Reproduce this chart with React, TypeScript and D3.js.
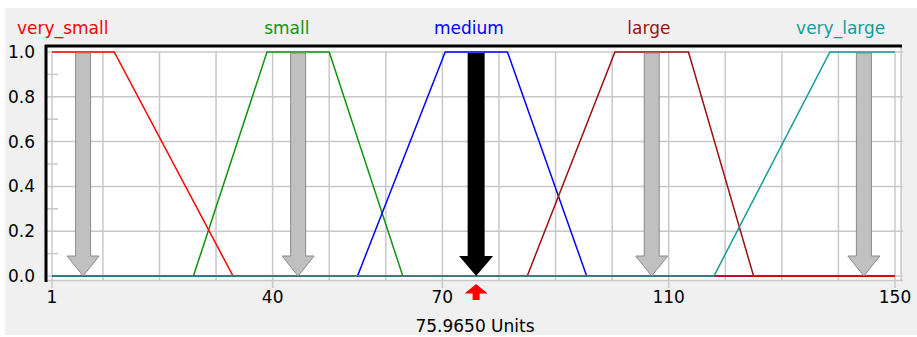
import React from 'react'
import * as d3 from 'd3'

const setNames = ['very_small', 'small', 'medium', 'large', 'very_large']
const setColors = ['#ff0000', '#119311', '#0000ff', '#9b1010', '#129c9c']
// trapezoid corners a, b, c, d for each set
const setPoints: number[][] = [
  [1, 1, 12, 33],
  [26, 39, 50, 63],
  [55, 70.5, 81.5, 95.5],
  [85, 100.5, 113.5, 125],
  [118, 138.5, 150, 150],
]
const drawOrder = [1, 2, 3, 0, 4]
const centroids = [6.5, 44.5, 76, 107, 144.5]
const labelAt = [2.9, 42.5, 74.7, 106.5, 140.4]
const crispValue = 75.965
const activeSet = 2

const xTicks = [1, 40, 70, 110, 150]
const xGrid = [1, 10, 20, 30, 40, 50, 60, 70, 80, 90, 100, 110, 120, 130, 140, 150]
const yTicks = [0, 0.2, 0.4, 0.6, 0.8, 1.0]
const yMinor = [0.1, 0.3, 0.5, 0.7, 0.9]

const W = 917
const H = 337
const font = 'DejaVu Sans, sans-serif'
const fs = 17

const App: React.FC = () => {
  const x = d3.scaleLinear().domain([1, 150]).range([52, 895])
  const y = d3.scaleLinear().domain([0, 1]).range([276, 52])

  const line = d3
    .line<number[]>()
    .x(d => x(d[0]))
    .y(d => y(d[1]))

  const shape = (p: number[]) => {
    const pts: number[][] = []
    if (p[0] > 1) pts.push([1, 0])
    pts.push([p[0], p[0] === p[1] ? 1 : 0], [p[1], 1], [p[2], 1], [p[3], p[2] === p[3] ? 1 : 0])
    if (p[3] < 150) pts.push([150, 0])
    return pts
  }

  const arrow = (u: number, shaftW: number, headW: number) => {
    const cx = x(u)
    const top = y(1) + 1
    const tip = y(0)
    const headTop = tip - 20
    return `M${cx - shaftW / 2},${top}L${cx + shaftW / 2},${top}L${cx + shaftW / 2},${headTop}L${cx + headW / 2},${headTop}L${cx},${tip}L${cx - headW / 2},${headTop}L${cx - shaftW / 2},${headTop}Z`
  }

  const mx = x(crispValue)

  return (
    <svg width={W} height={H} style={{ position: 'absolute', left: 0, top: 0 }} fontFamily={font}>
      <rect width={W} height={H} fill="#ffffff" />
      <rect x={5} y={8} width={W - 5} height={327} fill="#f0f0f0" />
      <rect x={47} y={46} width={854} height={235} fill="#ffffff" />

      {/* grid */}
      {xGrid.map(g => (
        <line key={'gx' + g} x1={x(g)} x2={x(g)} y1={y(1)} y2={281} stroke="#c8c8c8" strokeWidth={1.5} />
      ))}
      {yTicks.map(t => (
        <line key={'gy' + t} x1={47} x2={903} y1={y(t)} y2={y(t)} stroke="#c8c8c8" strokeWidth={1.5} />
      ))}
      {yMinor.map(t => (
        <line key={'my' + t} x1={47} x2={58} y1={y(t)} y2={y(t)} stroke="#c8c8c8" strokeWidth={1.5} />
      ))}
      <line x1={901} x2={901} y1={46} y2={281} stroke="#c8c8c8" strokeWidth={1.5} />
      <line x1={47} x2={903} y1={280.5} y2={280.5} stroke="#c8c8c8" strokeWidth={1.5} />
      {xTicks.map(t => (
        <line key={'xt' + t} x1={x(t)} x2={x(t)} y1={281} y2={288} stroke="#c8c8c8" strokeWidth={1.5} />
      ))}

      {/* membership functions */}
      {drawOrder.map(i => (
        <path key={setNames[i]} d={line(shape(setPoints[i])) || ''} fill="none" stroke={setColors[i]} strokeWidth={1.5} />
      ))}

      {/* centroid arrows */}
      {centroids.map((c, i) =>
        i === activeSet ? null : (
          <path key={'ar' + i} d={arrow(c, 15, 32)} fill="#c0c0c0" stroke="#8a8a8a" strokeWidth={1} />
        )
      )}
      <path d={arrow(crispValue, 17, 34)} fill="#000000" />

      {/* frame */}
      <line x1={45} x2={902} y1={46} y2={46} stroke="#000000" strokeWidth={3} />
      <line x1={46} x2={46} y1={45} y2={282} stroke="#000000" strokeWidth={3} />

      {/* set labels */}
      {setNames.map((n, i) => (
        <text key={'lb' + n} x={x(labelAt[i])} y={34} textAnchor="middle" fontSize={fs} fill={setColors[i]}>
          {n}
        </text>
      ))}

      {/* y tick labels */}
      {yTicks.map(t => (
        <text key={'yl' + t} x={35} y={y(t) + 6} textAnchor="end" fontSize={fs} fill="#000000">
          {t.toFixed(1)}
        </text>
      ))}

      {/* x tick labels */}
      {xTicks.map(t => (
        <text key={'xl' + t} x={x(t)} y={303} textAnchor="middle" fontSize={fs} fill="#000000">
          {t}
        </text>
      ))}

      {/* crisp value marker */}
      <path
        d={`M${mx},284L${mx + 11.5},293.5L${mx + 3.5},293.5L${mx + 3.5},300L${mx - 3.5},300L${mx - 3.5},293.5L${mx - 11.5},293.5Z`}
        fill="#ff0000"
      />
      <text x={475} y={332} textAnchor="middle" fontSize={fs} fill="#000000">
        {crispValue.toFixed(4)} Units
      </text>
    </svg>
  )
}

export default App
